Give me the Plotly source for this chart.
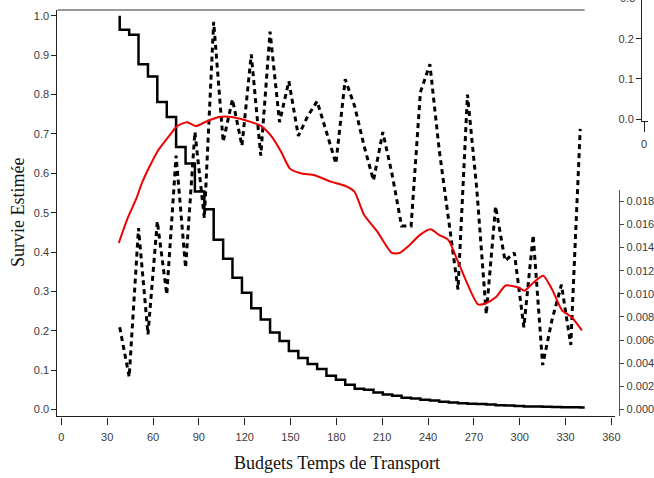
import plotly.graph_objects as go

# ---------------- data ----------------
budget = [38.2, 44.4, 50.5, 56.7, 62.8, 69.0, 75.1, 81.3, 87.4, 93.6,
          99.7, 105.9, 112.0, 118.2, 124.3, 130.5, 136.6, 142.8, 148.9, 155.1,
          161.2, 167.4, 173.5, 179.7, 185.8, 192.0, 198.1, 204.3, 210.4, 216.6,
          222.7, 228.9, 235.0, 241.2, 247.3, 253.5, 259.6, 265.8, 271.9, 278.1,
          284.2, 290.4, 296.5, 302.7, 308.8, 315.0, 321.1, 327.3, 333.4, 339.6]

survie = [0.965, 0.952, 0.877, 0.846, 0.781, 0.743, 0.667, 0.625, 0.554, 0.509,
          0.431, 0.383, 0.335, 0.297, 0.257, 0.229, 0.196, 0.174, 0.149, 0.131,
          0.116, 0.103, 0.086, 0.076, 0.063, 0.053, 0.050, 0.043, 0.038, 0.035,
          0.030, 0.028, 0.025, 0.023, 0.020, 0.018, 0.016, 0.015, 0.014, 0.013,
          0.011, 0.010, 0.009, 0.008, 0.0075, 0.007, 0.0065, 0.006, 0.0058, 0.0055]
survie_debut = 1.0
budget_fin = 342.5

densite = [0.209, 0.083, 0.461, 0.191, 0.478, 0.292, 0.645, 0.360, 0.705, 0.486,
           0.985, 0.680, 0.788, 0.670, 0.902, 0.645, 0.960, 0.730, 0.834, 0.695,
           0.745, 0.783, 0.705, 0.625, 0.839, 0.770, 0.670, 0.582, 0.705, 0.595,
           0.466, 0.466, 0.806, 0.877, 0.660, 0.480, 0.305, 0.800, 0.560, 0.242,
           0.516, 0.378, 0.398, 0.209, 0.443, 0.113, 0.227, 0.317, 0.164, 0.713]

lisse_x = [37.6, 43.4, 49.2, 53.1, 62.8, 70.6, 75.8, 82.3, 88.1, 94.6,
           103.0, 111.4, 124.4, 130.8, 137.3, 143.8, 149.6, 156.7, 165.8, 176.2,
           185.2, 191.7, 198.2, 206.6, 216.3, 221.5, 228.0, 234.5, 241.6, 247.4,
           253.2, 260.4, 272.7, 277.8, 284.3, 290.8, 299.2, 303.1, 308.9, 315.4,
           321.2, 327.7, 334.2, 340.7]
lisse_y = [0.423, 0.486, 0.537, 0.579, 0.655, 0.695, 0.720, 0.730, 0.720, 0.731,
           0.743, 0.743, 0.730, 0.720, 0.695, 0.655, 0.612, 0.600, 0.595, 0.579,
           0.569, 0.554, 0.494, 0.453, 0.398, 0.398, 0.418, 0.443, 0.458, 0.443,
           0.431, 0.368, 0.267, 0.270, 0.285, 0.315, 0.310, 0.302, 0.322, 0.340,
           0.305, 0.252, 0.234, 0.201]

x_ticks = [0, 30, 60, 90, 120, 150, 180, 210, 240, 270, 300, 330, 360]
y_ticks = [0.0, 0.1, 0.2, 0.3, 0.4, 0.5, 0.6, 0.7, 0.8, 0.9, 1.0]
y2_ticks = [0.000, 0.002, 0.004, 0.006, 0.008, 0.010, 0.012, 0.014, 0.016, 0.018]
y3_ticks = [0.0, 0.1, 0.2]

# ---------------- geometry helpers (pixels -> paper) ----------------
W, H = 654, 478
def px(x):
    return x / W
def py(y):
    return (H - y) / H

tick_font = dict(family="Liberation Sans, Arial, sans-serif", size=11, color="#3a3a3a")
title_font = dict(family="Liberation Serif, Times New Roman, serif", size=18, color="#111111")

fig = go.Figure()

# dummy traces so the extra axes are drawn
fig.add_trace(go.Scatter(x=[None], y=[None], xaxis="x", yaxis="y2", showlegend=False, hoverinfo="skip"))
fig.add_trace(go.Scatter(x=[None], y=[None], xaxis="x3", yaxis="y3", showlegend=False, hoverinfo="skip"))

# dashed zigzag series
fig.add_trace(go.Scatter(x=budget, y=densite, mode="lines",
                         line=dict(color="black", width=3, dash="5px,4px"),
                         hoverinfo="skip", showlegend=False, cliponaxis=False))
# step survival curve
fig.add_trace(go.Scatter(x=[budget[0]] + budget + [budget_fin],
                         y=[survie_debut] + survie + [survie[-1]],
                         mode="lines", line=dict(color="black", width=2.5, shape="hv"),
                         hoverinfo="skip", showlegend=False, cliponaxis=False))
# smoothed red curve
fig.add_trace(go.Scatter(x=lisse_x, y=lisse_y, mode="lines",
                         line=dict(color="#ee0000", width=2, shape="spline", smoothing=0.6),
                         hoverinfo="skip", showlegend=False, cliponaxis=False))

# main axes: 0 at px 61, 360 at px 617 ; y 0 at py 413, 1 at py 16
kx = (617 - 61) / 360.0
ky = (413 - 16) / 1.0
x_lo, x_hi = (57 - 61) / kx, (621 - 61) / kx
y_lo, y_hi = -(420 - 413) / ky, (413 - 10) / ky

# right secondary axis: 0 at py 413, 0.018 at py 203
k2 = (413 - 203) / 0.018
y2_lo, y2_hi = -(420 - 413) / k2, (413 - 192) / k2

# top-right mini axis: 0 at py 120, 0.1 per 40.5 px
k3 = 40.5 / 0.1
y3_lo, y3_hi = -(122 - 120) / k3, (120 - 0) / k3

fig.update_layout(
    width=W, height=H,
    margin=dict(l=0, r=0, t=0, b=0),
    paper_bgcolor="white", plot_bgcolor="rgba(0,0,0,0)",
    showlegend=False,
    xaxis=dict(domain=[px(57), px(621)], range=[x_lo, x_hi],
               tickvals=x_ticks, ticktext=[str(v) for v in x_ticks],
               ticks="outside", ticklen=7, tickwidth=1, tickcolor="#222",
               ticklabelstandoff=3,
               showline=True, linecolor="#222", linewidth=1.2,
               showgrid=False, zeroline=False, tickfont=tick_font, anchor="y"),
    yaxis=dict(domain=[py(420), py(10)], range=[y_lo, y_hi],
               tickvals=y_ticks, ticktext=["%.1f" % v for v in y_ticks],
               ticks="outside", ticklen=5, tickwidth=1, tickcolor="#222",
               showline=True, linecolor="#222", linewidth=1.2,
               showgrid=False, zeroline=False, tickfont=tick_font, anchor="x"),
    yaxis2=dict(domain=[py(420), py(192)], range=[y2_lo, y2_hi],
                anchor="free", position=px(625), side="right",
                tickvals=y2_ticks, ticktext=["%.3f" % v for v in y2_ticks],
                ticks="outside", ticklen=4, tickwidth=1, tickcolor="#444",
                showline=True, linecolor="#555", linewidth=1.2,
                showgrid=False, zeroline=False, tickfont=tick_font),
    xaxis3=dict(domain=[px(648), 1.0], range=[-2, 4], anchor="y3",
                tickvals=[0], ticktext=["0"], ticks="outside", ticklen=10,
                ticklabelstandoff=3,
                tickwidth=1, tickcolor="#222", showline=True, linecolor="#222",
                linewidth=1.2, showgrid=False, zeroline=False, tickfont=tick_font),
    yaxis3=dict(domain=[py(122), 1.0], range=[y3_lo, y3_hi], anchor="x3",
                tickvals=y3_ticks, ticktext=["%.1f" % v for v in y3_ticks],
                ticks="outside", ticklen=5, tickwidth=1, tickcolor="#222",
                showline=True, linecolor="#222", linewidth=1.2,
                showgrid=False, zeroline=False, tickfont=tick_font),
    shapes=[dict(type="line", xref="paper", yref="paper",
                 x0=px(57), x1=px(590), y0=py(10), y1=py(10),
                 line=dict(color="#777", width=1.5))],
    annotations=[
        dict(text="Budgets Temps de Transport", xref="paper", yref="paper",
             x=px(340), y=py(467), xanchor="center", yanchor="middle",
             showarrow=False, font=title_font),
        dict(text="Survie Estimée", xref="paper", yref="paper",
             x=px(17), y=py(214), xanchor="center", yanchor="middle",
             textangle=-90, showarrow=False, font=title_font),
        dict(text="0.3", xref="paper", yref="paper",
             x=px(643), y=py(-2), xanchor="right", yanchor="middle",
             showarrow=False, font=tick_font),
    ],
)

fig.write_html("out.html")
